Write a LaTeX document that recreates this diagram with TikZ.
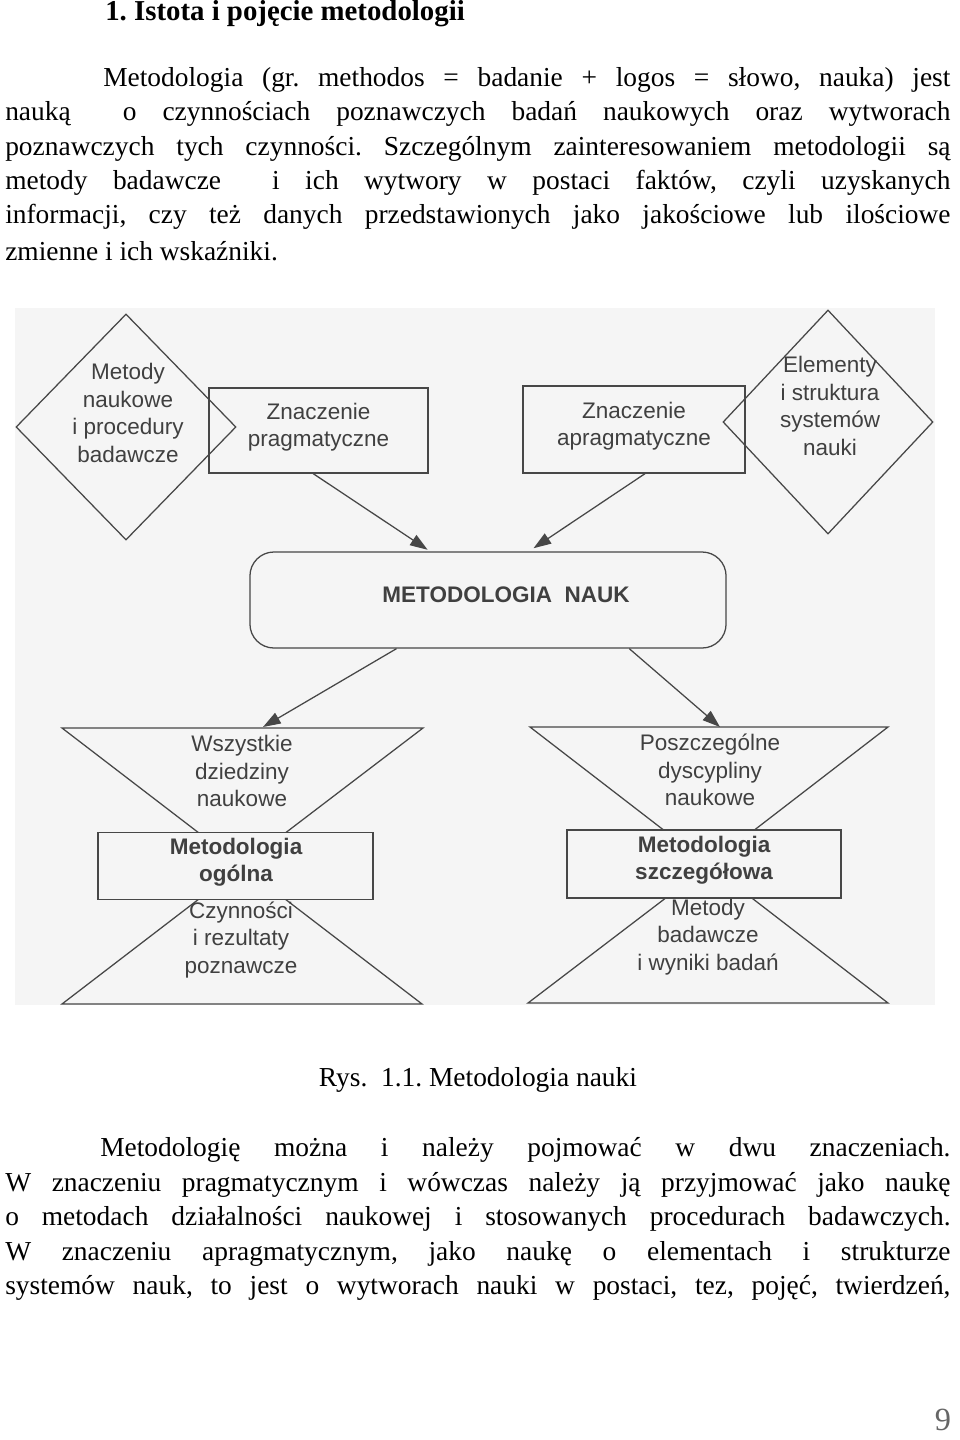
\documentclass[tikz,border=0pt]{standalone}
\usepackage{fontspec}
\setmainfont{Liberation Serif}
\newfontfamily\diagfont{Liberation Sans}
\usetikzlibrary{shapes.geometric,arrows.meta}
\frenchspacing

\begin{document}
\begin{tikzpicture}[x=0.025cm,y=-0.025cm,
  bodyline/.style={anchor=west,inner sep=0pt,font=\fontsize{19.5}{24}\selectfont},
  edge/.style={draw=black!72,line width=0.9pt},
  plainbox/.style={edge,fill=black!4,inner sep=0pt},
  lbl/.style={font=\diagfont\fontsize{16}{19.5}\selectfont,text=black!75,align=center,inner sep=0pt},
  arr/.style={edge,-{Triangle[length=0.44cm,width=0.3cm]}}]
\useasboundingbox (0,0) rectangle (960,1440);

% text above the figure
\node[anchor=base west,inner sep=0pt,font=\bfseries\fontsize{20.5}{24}\selectfont] (title) at (105,21) {1. Istota i pojęcie metodologii};
\node[bodyline] (p1a) at (103,80) {\makebox[21.175cm][s]{Metodologia (gr. methodos = badanie + logos = słowo, nauka) jest}};
\node[bodyline] (p1b) at (5,114) {\makebox[23.625cm][s]{nauką \ o czynnościach poznawczych badań naukowych oraz wytworach}};
\node[bodyline] (p1c) at (5,149) {\makebox[23.625cm][s]{poznawczych tych czynności. Szczególnym zainteresowaniem metodologii są}};
\node[bodyline] (p1d) at (5,183) {\makebox[23.625cm][s]{metody badawcze \ i ich wytwory w postaci faktów, czyli uzyskanych}};
\node[bodyline] (p1e) at (5,217) {\makebox[23.625cm][s]{informacji, czy też danych przedstawionych jako jakościowe lub ilościowe}};
\node[bodyline] (p1f) at (5,251) {zmienne i ich wskaźniki.};

% figure
\fill[black!4] (15,308) rectangle (935,1005);

\node[diamond,edge,minimum width=5.5cm,minimum height=5.65cm,inner sep=0pt] (metody) at (126,427) {};
\node[lbl] (metodytxt) at (128,413) {Metody\\naukowe\\i procedury\\badawcze};
\node[edge,minimum width=5.475cm,minimum height=2.125cm,inner sep=0pt] (prag) at (318.5,430.5) {};
\node[lbl] (pragtxt) at (318.5,427) {Znaczenie\\pragmatyczne};

\node[edge,minimum width=5.55cm,minimum height=2.175cm,inner sep=0pt] (apra) at (634,429.5) {};
\node[lbl] (apratxt) at (634,426) {Znaczenie\\apragmatyczne};
\node[diamond,edge,minimum width=5.25cm,minimum height=5.6cm,inner sep=0pt] (elementy) at (828,422) {};
\node[lbl] (elementytxt) at (830,406) {Elementy\\i struktura\\systemów\\nauki};

\node[edge,rounded corners=0.6cm,minimum width=11.9cm,minimum height=2.4cm,inner sep=0pt] (meta) at (488,600) {};
\node[lbl,font=\diagfont\bfseries\fontsize{16}{19.5}\selectfont] (metatxt) at (506,595) {METODOLOGIA\ \ NAUK};

% left hourglass
\coordinate (wA) at (62,728);
\coordinate (wB) at (423,728);
\coordinate (wC) at (242,866);
\coordinate (wD) at (62,1004);
\coordinate (wE) at (422,1004);
\coordinate (wtop) at (263,727);
\draw[edge] (wA) -- (wB) -- (wC) -- cycle;
\draw[edge] (wD) -- (wE) -- (wC) -- cycle;
\node[plainbox,minimum width=6.875cm,minimum height=1.675cm] (ogolna) at (235.5,866) {};
\node[lbl,font=\diagfont\bfseries\fontsize{16}{19.5}\selectfont] (ogolnatxt) at (236,862) {Metodologia\\ogólna};
\node[lbl] (wszystkie) at (242,771) {Wszystkie\\dziedziny\\naukowe};
\node[lbl] (czynnosci) at (241,940) {Czynności\\i rezultaty\\poznawcze};

% right hourglass
\coordinate (pA) at (530,727);
\coordinate (pB) at (888,727);
\coordinate (pC) at (709,865);
\coordinate (pD) at (528,1003);
\coordinate (pE) at (888,1003);
\coordinate (ptop) at (720,727);
\draw[edge] (pA) -- (pB) -- (pC) -- cycle;
\draw[edge] (pD) -- (pE) -- (pC) -- cycle;
\node[plainbox,minimum width=6.85cm,minimum height=1.7cm] (szczeg) at (704,864) {};
\node[lbl,font=\diagfont\bfseries\fontsize{16}{19.5}\selectfont] (szczegtxt) at (704,860) {Metodologia\\szczegółowa};
\node[lbl] (poszcz) at (710,770) {Poszczególne\\dyscypliny\\naukowe};
\node[lbl] (wyniki) at (708,937) {Metody\\badawcze\\i wyniki badań};

% arrows
\draw[arr,shorten >=2pt] (prag.263) -- (meta.140);
\draw[arr,shorten >=4pt] (apra.284) -- (meta.50);
\draw[arr] (meta.208) -- (wtop);
\draw[arr] (meta.341) -- (ptop);

% text below the figure
\node[inner sep=0pt,font=\fontsize{19.5}{24}\selectfont] (caption) at (478,1080) {Rys.\ \ 1.1. Metodologia nauki};
\node[bodyline] (p2a) at (100,1150) {\makebox[21.25cm][s]{Metodologię można i należy pojmować w dwu znaczeniach.}};
\node[bodyline] (p2b) at (5,1185) {\makebox[23.625cm][s]{W znaczeniu pragmatycznym i wówczas należy ją przyjmować jako naukę}};
\node[bodyline] (p2c) at (5,1219) {\makebox[23.625cm][s]{o metodach działalności naukowej i stosowanych procedurach badawczych.}};
\node[bodyline] (p2d) at (5,1254) {\makebox[23.625cm][s]{W znaczeniu apragmatycznym, jako naukę o elementach i strukturze}};
\node[bodyline] (p2e) at (5,1288) {\makebox[23.625cm][s]{systemów nauk, to jest o wytworach nauki w postaci, tez, pojęć, twierdzeń,}};

\node[inner sep=0pt,font=\fontsize{23}{26}\selectfont,text=black!60] (pagenum) at (943,1420) {9};
\end{tikzpicture}
\end{document}
